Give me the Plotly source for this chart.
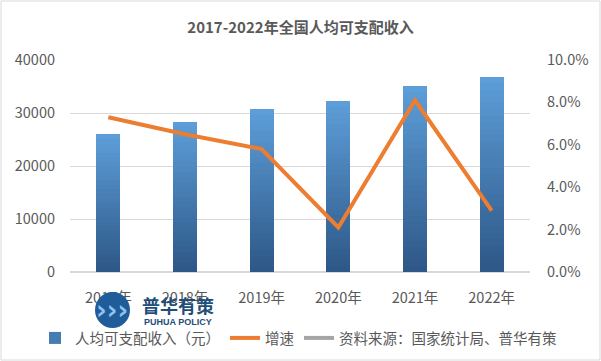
import plotly.graph_objects as go

years = ["2017年", "2018年", "2019年", "2020年", "2021年", "2022年"]
income = [25974, 28228, 30733, 32189, 35128, 36883]
growth = [0.073, 0.065, 0.058, 0.021, 0.081, 0.029]
y_ticks_left = [0, 10000, 20000, 30000, 40000]
y_ticks_right = [0, 0.02, 0.04, 0.06, 0.08, 0.10]

FONT = "Noto Sans CJK SC"
TXT = "#595959"

# plot area in pixels
L, R, T, B = 70, 71, 60, 89
W, H = 601, 361
PW, PH = W - L - R, H - T - B


def px(x):
    return (x - L) / PW


def py(y):
    return (H - B - y) / PH


fig = go.Figure()

# gradient bars via stacked fractions
N = 30
top = (93, 157, 216)
bot = (45, 88, 135)
for i in range(N):
    t = i / (N - 1)
    c = tuple(round(bot[k] + (top[k] - bot[k]) * t) for k in range(3))
    fig.add_trace(go.Bar(
        x=years, y=[v / N for v in income],
        marker=dict(color="rgb(%d,%d,%d)" % c, line=dict(width=0)),
        name="人均可支配收入（元）",
        showlegend=(i == N // 2), legendrank=1,
        hoverinfo="skip",
        yaxis="y",
    ))

fig.add_trace(go.Scatter(
    x=years, y=growth, mode="lines", name="增速",
    line=dict(color="#ED7D31", width=4), yaxis="y2", legendrank=2,
))
fig.add_trace(go.Scatter(
    x=[None], y=[None], mode="lines", name="资料来源：国家统计局、普华有策",
    line=dict(color="#A5A5A5", width=4), yaxis="y2", legendrank=3,
))

fig.update_layout(
    width=W, height=H,
    margin=dict(l=L, r=R, t=T, b=B, autoexpand=False),
    paper_bgcolor="white", plot_bgcolor="white",
    font=dict(family=FONT, size=14, color=TXT),
    barmode="stack", bargap=0.69,
    title=dict(text="<b>2017-2022年全国人均可支配收入</b>", x=0.5, xanchor="center",
               y=1 - 28 / H, yanchor="middle", font=dict(size=15, color=TXT)),
    xaxis=dict(showgrid=False, showline=False, ticks="", ticklabelstandoff=15,
               tickfont=dict(size=14.5, color=TXT)),
    yaxis=dict(range=[0, 40000], tickvals=y_ticks_left, tickformat="d", showgrid=True,
               gridcolor="#D9D9D9", gridwidth=1, zeroline=True, zerolinecolor="#D9D9D9",
               showline=False, ticks="", ticklabelstandoff=14,
               tickfont=dict(size=14.5, color=TXT)),
    yaxis2=dict(range=[0, 0.10], tickvals=y_ticks_right, tickformat=".1%",
                overlaying="y", side="right", showgrid=False, zeroline=False,
                showline=False, ticks="", ticklabelstandoff=16,
                tickfont=dict(size=14.5, color=TXT)),
    legend=dict(orientation="h", x=px(35), xanchor="left", y=py(338), yanchor="middle",
                font=dict(size=14.5, color=TXT), traceorder="normal",
                itemwidth=30, bgcolor="rgba(0,0,0,0)"),
    showlegend=True,
    shapes=[
        dict(type="rect", xref="paper", yref="paper",
             x0=px(1), x1=px(600), y0=py(360), y1=py(1),
             line=dict(color="#D9D9D9", width=1), fillcolor="rgba(0,0,0,0)", layer="below"),
        dict(type="circle", xref="paper", yref="paper",
             x0=px(95), x1=px(130), y0=py(328), y1=py(292),
             line=dict(width=0), fillcolor="#1F5C99", layer="above"),
    ],
    annotations=[
        dict(text="<b>›››</b>", xref="paper", yref="paper", x=px(112), y=py(310),
             xanchor="center", yanchor="middle",
             showarrow=False, font=dict(size=26, color="#8EC3F0", family="DejaVu Sans")),
        dict(text="<b>普华有策</b>", xref="paper", yref="paper", x=px(178), y=py(305),
             xanchor="center", yanchor="middle",
             showarrow=False, font=dict(size=18, color="#1F4E79", family=FONT)),
        dict(text="<b>PUHUA POLICY</b>", xref="paper", yref="paper", x=px(178), y=py(322),
             xanchor="center", yanchor="middle",
             showarrow=False, font=dict(size=9, color="#1F4E79", family="Liberation Sans")),
    ],
)

fig.write_html("out.html", config={"displayModeBar": False},
               post_script="document.body.style.margin='0';document.body.style.overflow='hidden';")
